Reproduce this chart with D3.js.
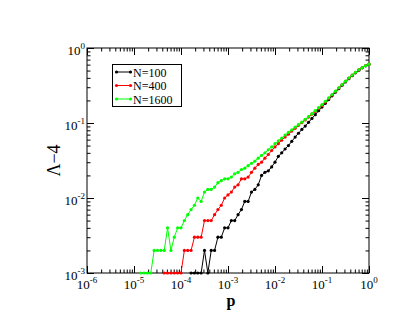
<!DOCTYPE html>
<html>
<head>
<meta charset="utf-8">
<script src="https://cdn.jsdelivr.net/npm/d3@7"></script>
<style>
  html, body { margin: 0; padding: 0; background: #fff; }
  svg { display: block; }
  text { font-family: "Liberation Serif", "Times New Roman", serif; fill: #000; }
</style>
</head>
<body>
<script>
'use strict';

// shared p grid (14 points per decade)
const pValues = [
    1.389e-5, 1.638e-5, 1.931e-5, 2.276e-5, 2.683e-5, 3.162e-5, 3.728e-5, 4.394e-5, 5.179e-5, 6.105e-5, 7.197e-5, 8.483e-5,
    1.000e-4, 1.179e-4, 1.389e-4, 1.638e-4, 1.931e-4, 2.276e-4, 2.683e-4, 3.162e-4, 3.728e-4, 4.394e-4, 5.179e-4, 6.105e-4, 7.197e-4, 8.483e-4,
    1.000e-3, 1.179e-3, 1.389e-3, 1.638e-3, 1.931e-3, 2.276e-3, 2.683e-3, 3.162e-3, 3.728e-3, 4.394e-3, 5.179e-3, 6.105e-3, 7.197e-3, 8.483e-3,
    1.000e-2, 1.179e-2, 1.389e-2, 1.638e-2, 1.931e-2, 2.276e-2, 2.683e-2, 3.162e-2, 3.728e-2, 4.394e-2, 5.179e-2, 6.105e-2, 7.197e-2, 8.483e-2,
    1.000e-1, 1.179e-1, 1.389e-1, 1.638e-1, 1.931e-1, 2.276e-1, 2.683e-1, 3.162e-1, 3.728e-1, 4.394e-1, 5.179e-1, 6.105e-1, 7.197e-1, 8.483e-1,
    1.0
];

const lambdaN100 = [
    null, null, null, null, null, null, null, null, null, null, null, null,
    null, null, null, 0.001, 0.001, 0.001, 0.001, 0.002, 0.001, 0.002, 0.002, 0.003, 0.003, 0.004,
    0.004, 0.005, 0.005, 0.006, 0.007, 0.009, 0.009, 0.012, 0.013, 0.015, 0.020, 0.022, 0.023, 0.026,
    0.030, 0.036, 0.040, 0.045, 0.050, 0.057, 0.065, 0.073, 0.082, 0.091, 0.102, 0.115, 0.129, 0.146,
    0.163, 0.183, 0.205, 0.230, 0.257, 0.287, 0.319, 0.353, 0.390, 0.428, 0.467, 0.506, 0.544, 0.578,
    0.607
];

const lambdaN400 = [
    null, null, null, null, null, null, null, 0.001, 0.001, 0.001, 0.001, 0.001,
    0.001, 0.002, 0.002, 0.002, 0.003, 0.003, 0.003, 0.005, 0.005, 0.005, 0.006, 0.007, 0.008, 0.010,
    0.011, 0.012, 0.014, 0.015, 0.018, 0.018, 0.019, 0.022, 0.025, 0.028, 0.030, 0.034, 0.038, 0.043,
    0.048, 0.053, 0.059, 0.065, 0.071, 0.078, 0.085, 0.093, 0.101, 0.110, 0.120, 0.131, 0.143, 0.156,
    0.171, 0.190, 0.212, 0.237, 0.264, 0.293, 0.326, 0.360, 0.397, 0.435, 0.474, 0.512, 0.549, 0.581,
    0.608
];

const lambdaN1600 = [
    0.001, 0.001, 0.001, 0.001, 0.002, 0.002, 0.002, 0.002, 0.004, 0.002, 0.003, 0.004,
    0.004, 0.005, 0.006, 0.007, 0.008, 0.010, 0.009, 0.012, 0.013, 0.013, 0.014, 0.016, 0.017, 0.018,
    0.018, 0.019, 0.021, 0.022, 0.024, 0.025, 0.027, 0.029, 0.031, 0.034, 0.037, 0.040, 0.044, 0.048,
    0.053, 0.058, 0.063, 0.069, 0.075, 0.081, 0.088, 0.095, 0.103, 0.112, 0.122, 0.133, 0.146, 0.160,
    0.176, 0.195, 0.216, 0.240, 0.266, 0.295, 0.327, 0.361, 0.398, 0.436, 0.475, 0.513, 0.549, 0.581,
    0.609
];

const seriesNames = ['N=100', 'N=400', 'N=1600'];
const seriesColors = ['#000000', '#ff0000', '#00ff00'];
const xTickExps = [-6, -5, -4, -3, -2, -1, 0];
const yTickExps = [-3, -2, -1, 0];

const width = 415, height = 321;
const margin = { top: 48, right: 46, bottom: 48, left: 87 };
const plotW = width - margin.left - margin.right;
const plotH = height - margin.top - margin.bottom;
const majorLen = 7, minorLen = 3.5;

const svg = d3.select('body').append('svg')
    .attr('width', width)
    .attr('height', height);

const g = svg.append('g')
    .attr('transform', `translate(${margin.left},${margin.top})`);

const x = d3.scaleLog().domain([1e-6, 1]).range([0, plotW]);
const y = d3.scaleLog().domain([1e-3, 1]).range([plotH, 0]);

const isPow10 = (v) => Math.abs(Math.log10(v) - Math.round(Math.log10(v))) < 1e-9;
const xMajor = xTickExps.map((e) => Math.pow(10, e));
const yMajor = yTickExps.map((e) => Math.pow(10, e));
const xMinor = x.ticks().filter((v) => !isPow10(v));
const yMinor = y.ticks().filter((v) => !isPow10(v));

// ticks on all four sides, pointing inward
function addTicks(axisFn, scale, values, len, transform) {
    g.append('g')
        .attr('transform', transform)
        .call(axisFn(scale).tickValues(values).tickSize(-len).tickFormat(''))
        .call((sel) => sel.select('.domain').remove())
        .selectAll('line')
        .attr('stroke', '#000')
        .attr('stroke-width', 1);
}
addTicks(d3.axisBottom, x, xMajor, majorLen, `translate(0,${plotH})`);
addTicks(d3.axisBottom, x, xMinor, minorLen, `translate(0,${plotH})`);
addTicks(d3.axisTop, x, xMajor, majorLen, 'translate(0,0)');
addTicks(d3.axisTop, x, xMinor, minorLen, 'translate(0,0)');
addTicks(d3.axisLeft, y, yMajor, majorLen, 'translate(0,0)');
addTicks(d3.axisLeft, y, yMinor, minorLen, 'translate(0,0)');
addTicks(d3.axisRight, y, yMajor, majorLen, `translate(${plotW},0)`);
addTicks(d3.axisRight, y, yMinor, minorLen, `translate(${plotW},0)`);

g.append('rect')
    .attr('x', 0).attr('y', 0)
    .attr('width', plotW).attr('height', plotH)
    .attr('fill', 'none')
    .attr('stroke', '#000')
    .attr('stroke-width', 1);

// tick labels 10^n
function powLabel(sel, e) {
    sel.append('tspan').attr('font-size', 13).text('10');
    sel.append('tspan').attr('font-size', 9).attr('dy', -6).text(e);
}
xTickExps.forEach((e) => {
    g.append('text')
        .attr('x', x(Math.pow(10, e)))
        .attr('y', plotH + 16)
        .attr('text-anchor', 'middle')
        .call(powLabel, e);
});
yTickExps.forEach((e) => {
    g.append('text')
        .attr('x', -2)
        .attr('y', y(Math.pow(10, e)) + 7)
        .attr('text-anchor', 'end')
        .call(powLabel, e);
});

// axis titles
g.append('text')
    .attr('x', plotW / 2 + 3)
    .attr('y', plotH + 33)
    .attr('text-anchor', 'middle')
    .attr('font-size', 16)
    .attr('font-weight', 'bold')
    .text('p');

svg.append('text')
    .attr('transform', `translate(60,${margin.top + plotH / 2}) rotate(-90)`)
    .attr('text-anchor', 'middle')
    .attr('font-size', 18)
    .text('Λ\u22124');

// data lines
const lineGen = d3.line()
    .defined((d) => d.v != null)
    .x((d) => x(d.p))
    .y((d) => y(d.v));

[lambdaN100, lambdaN400, lambdaN1600].forEach((vals, i) => {
    const pts = pValues.map((p, k) => ({ p: p, v: vals[k] }));
    const s = g.append('g');
    s.append('path')
        .datum(pts)
        .attr('fill', 'none')
        .attr('stroke', seriesColors[i])
        .attr('stroke-width', 1)
        .attr('d', lineGen);
    s.selectAll('circle')
        .data(pts.filter((d) => d.v != null))
        .join('circle')
        .attr('cx', (d) => x(d.p))
        .attr('cy', (d) => y(d.v))
        .attr('r', 1.6)
        .attr('fill', seriesColors[i]);
});

// legend
const legend = svg.append('g').attr('transform', 'translate(112,64)');
legend.append('rect')
    .attr('x', 0.5).attr('y', 0.5)
    .attr('width', 69).attr('height', 42)
    .attr('fill', '#fff')
    .attr('stroke', '#000')
    .attr('stroke-width', 1);
seriesNames.forEach((name, i) => {
    const ly = 8 + i * 13.5;
    legend.append('line')
        .attr('x1', 4.5).attr('x2', 18.5)
        .attr('y1', ly).attr('y2', ly)
        .attr('stroke', seriesColors[i])
        .attr('stroke-width', 1);
    [4.5, 18.5].forEach((cx) => {
        legend.append('circle')
            .attr('cx', cx).attr('cy', ly).attr('r', 1.6)
            .attr('fill', seriesColors[i]);
    });
    legend.append('text')
        .attr('x', 21)
        .attr('y', ly + 4.5)
        .attr('font-size', 12)
        .text(name);
});
</script>
</body>
</html>
